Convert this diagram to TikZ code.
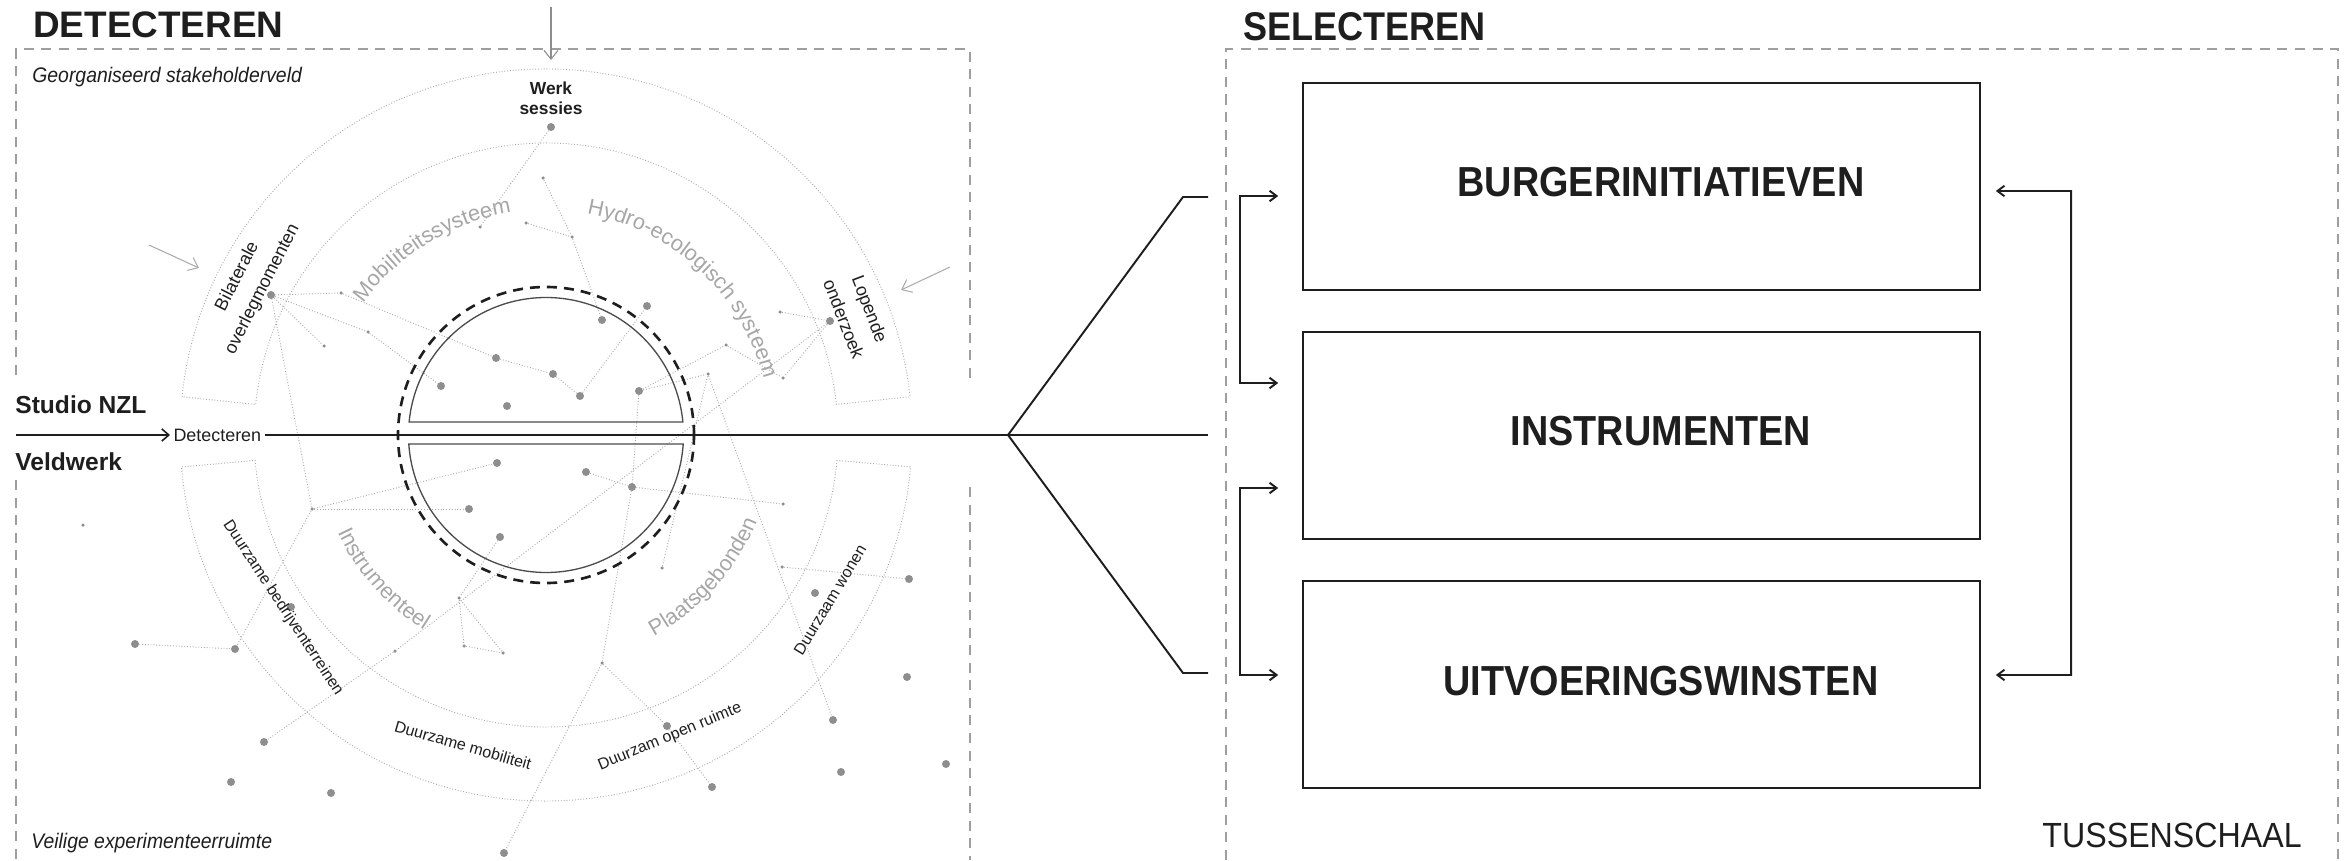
\documentclass[tikz,border=0pt]{standalone}
\usepackage{fontspec}
\setmainfont{Liberation Sans}
\newfontfamily\narrowfont[FakeStretch=0.9]{Liberation Sans}
\newfontfamily\slimfont[FakeStretch=0.92]{Liberation Sans}
\usetikzlibrary{arrows.meta,calc,decorations.text}

\definecolor{ink}{HTML}{1E1E1E}
\definecolor{dotgray}{HTML}{8E8E8E}
\definecolor{netgray}{HTML}{ABABAB}
\definecolor{lblgray}{HTML}{A6A6A6}
\definecolor{framegray}{HTML}{9E9E9E}

\tikzset{
  bdot/.style={circle,fill=dotgray,inner sep=0pt,minimum size=0.16cm},
  sdot/.style={circle,fill=dotgray,inner sep=0pt,minimum size=0.07cm},
  net/.style={netgray,line width=0.55pt,dash pattern=on 0.5pt off 1.1pt},
  frame/.style={framegray,line width=0.7pt,dash pattern=on 5.7pt off 4.3pt},
  selbox/.style={draw=ink,line width=1pt,minimum width=13.54cm,minimum height=4.14cm,inner sep=0pt},
  boxtext/.style={font=\narrowfont\bfseries\fontsize{23.9}{28}\selectfont,text=ink,inner sep=0pt},
  ringtext/.style={font=\fontsize{9.1}{11}\selectfont,text=ink,inner sep=0pt},
  tag/.style={font=\fontsize{10.2}{15.9}\selectfont,text=ink,align=center,inner sep=0pt},
  garr/.style={dotgray,line width=0.6pt,-{Straight Barb[length=5pt,width=8pt]}},
  brk/.style={ink,line width=1.1pt,{Straight Barb[length=4pt,width=6pt]}-{Straight Barb[length=4pt,width=6pt]}},
  fan/.style={ink,line width=1.1pt},
}

\begin{document}
\begin{tikzpicture}[x=0.02cm,y=0.02cm]
\useasboundingbox (0,0) rectangle (2351,860);

% dashed frames
\draw[frame] (16,485) -- (16,811) -- (970,811) -- (970,479);
\draw[frame] (16,380) -- (16,0);
\draw[frame] (970,373) -- (970,0);
\draw[frame] (1226,0) -- (1226,811) -- (2338,811) -- (2338,0);

% titles
\node[anchor=base west,inner sep=0pt,font=\bfseries\fontsize{21}{24}\selectfont,text=ink] (dettitle) at (33,822) {DETECTEREN};
\node[anchor=base west,inner sep=0pt,font=\narrowfont\bfseries\fontsize{22.8}{26}\selectfont,text=ink] (seltitle) at (1243,819) {SELECTEREN};
\node[anchor=base east,inner sep=0pt,font=\slimfont\fontsize{19.9}{22}\selectfont,text=ink] (scale) at (2302,13) {TUSSENSCHAAL};
\node[anchor=base west,inner sep=0pt,font=\slimfont\itshape\fontsize{12}{14}\selectfont,text=ink] (field) at (32,777) {Georganiseerd stakeholderveld};
\node[anchor=base west,inner sep=0pt,font=\slimfont\itshape\fontsize{12}{14}\selectfont,text=ink] (safe) at (31,12) {Veilige experimenteerruimte};
\node[anchor=base west,inner sep=0pt,font=\bfseries\fontsize{14}{16}\selectfont,text=ink] (studio) at (15,447) {Studio NZL};
\node[anchor=base west,inner sep=0pt,font=\bfseries\fontsize{14}{16}\selectfont,text=ink] (veld) at (15,390) {Veldwerk};

% rings around the centre
\coordinate (C) at (546,425);
\draw[net] ([shift={(C)}]6:292) arc[start angle=6,end angle=174,radius=292]
  -- ([shift={(C)}]174:366) arc[start angle=174,end angle=6,radius=366] -- cycle;
\draw[net] ([shift={(C)}]-5:292) arc[start angle=-5,end angle=-175,radius=292]
  -- ([shift={(C)}]-175:366) arc[start angle=-175,end angle=-5,radius=366] -- cycle;

% network of dots
\foreach \n/\x/\y in {u1/551/733,u6/271/565,u10/441/474,u11/496/502,u12/553/486,u13/580/464,
  u14/507/454,u15/602/540,u16/647/554,u17/639/469,u21/830/539,
  l2/469/351,l3/497/397,l4/235/211,l5/135/216,l6/500/323,l11/264/118,l12/586/388,l13/632/373,
  l16/504/7,l17/667/134,l18/712/73,l19/833/140,l22/909/281,l23/815/267,l24/907/183,
  l25/841/88,l26/946/96,l27/291/253,l28/231/78,l29/331/67}
  \node[bdot] (\n) at (\x,\y) {};
\foreach \n/\x/\y in {u2/480/633,u3/543/682,u4/572/623,u5/526/637,u7/341/567,u8/368/528,
  u9/324/514,u18/726/515,u19/708/486,u20/780/548,u22/783/482,
  l1/312/351,l7/459/262,l8/464/214,l9/503/207,l10/395/209,l14/783/356,l15/602/197,
  l20/662/292,l21/782/293,l30/83/335}
  \node[sdot] (\n) at (\x,\y) {};
\foreach \p/\q in {u1/u2,u3/u4,u4/u15,u5/u4,u6/u7,u6/u8,u8/u10,u6/u9,u7/u11,u11/u12,
  u12/u13,u13/u16,u17/u18,u18/u22,u17/u19,u20/u21,u21/u22,
  u6/l1,l1/l2,l1/l3,l1/l4,l5/l4,l6/l7,l7/l8,l8/l9,l9/l7,u21/l10,l10/l11,u17/l13,
  l12/l13,l13/l14,l13/l15,l15/l16,l15/l17,l17/l18,u19/l19,l20/u19,l21/l22}
  \draw[net] (\p) -- (\q);

% gray arc labels
\path[decorate,decoration={text along path,text align=center,text color=lblgray,
  text={|\fontsize{12.4}{14}\selectfont|Mobiliteitssysteem}}]
  ([shift={(C)}]155:225) arc[start angle=155,end angle=88,radius=225];
\path[decorate,decoration={text along path,text align=center,text color=lblgray,
  text={|\fontsize{12.4}{14}\selectfont|Hydro-ecologisch systeem}}]
  ([shift={(C)}]82:225) arc[start angle=82,end angle=12,radius=225];
\path[decorate,decoration={text along path,text align=center,text color=lblgray,
  text={|\fontsize{12.4}{14}\selectfont|Instrumenteel}}]
  ([shift={(C)}]195:230) arc[start angle=195,end angle=248,radius=230];
\path[decorate,decoration={text along path,text align=center,text color=lblgray,
  text={|\fontsize{12.4}{14}\selectfont|Plaatsgebonden}}]
  ([shift={(C)}]-70:228) arc[start angle=-70,end angle=-14,radius=228];

% ring labels
\node[tag,rotate=63] (bilat) at (250,577) {Bilaterale\\overlegmomenten};
\node[tag,rotate=-69] (lopend) at (857,546) {Lopende\\onderzoek};
\node[ringtext,rotate=-56.7] (bedrijf) at (283,252) {Duurzame bedrijventerreinen};
\node[ringtext,rotate=-16] (mobiel) at (463,115) {Duurzame mobiliteit};
\node[ringtext,rotate=22.5] (ruimte) at (670,123) {Duurzam open ruimte};
\node[ringtext,rotate=59] (wonen) at (830,260) {Duurzaam wonen};
\node[font=\bfseries\fontsize{9.9}{11.4}\selectfont,text=ink,align=center,inner sep=0pt] (werk) at (551,762) {Werk\\sessies};

% incoming arrows
\coordinate (topin) at (551,853);
\coordinate (topend) at (551,800);
\coordinate (leftin) at (149,615);
\coordinate (leftend) at (199,592);
\coordinate (rightin) at (950,593);
\coordinate (rightend) at (901,570);
\draw[garr] (topin) -- (topend);
\draw[garr,netgray] (leftin) -- (leftend);
\draw[garr,netgray] (rightin) -- (rightend);

% central circle
\draw[ink,line width=1.5pt,dash pattern=on 5.7pt off 4pt] (C) circle[radius=148];
\draw[ink!80,line width=0.75pt] ([shift={(C)}]5.43:137.5) arc[start angle=5.43,end angle=174.57,radius=137.5] -- cycle;
\draw[ink!80,line width=0.75pt] ([shift={(C)}]-3.75:137.5) arc[start angle=-3.75,end angle=-176.25,radius=137.5] -- cycle;

% main line and fan
\coordinate (start) at (16,425);
\node[anchor=west,inner sep=0pt,outer sep=2pt,font=\fontsize{10.2}{12}\selectfont,text=ink] (det) at (170,425) {Detecteren};
\draw[ink,line width=0.9pt,-{Straight Barb[length=4pt,width=7pt]}] (start) -- (det.west);
\coordinate (apex) at (1008,425);
\coordinate (fanup) at (1183,663);
\coordinate (fanupend) at (1208,663);
\coordinate (fanlow) at (1183,187);
\coordinate (fanlowend) at (1208,187);
\coordinate (fanmid) at (1208,425);
\draw[ink,line width=1.4pt] (det.east) -- (apex);
\draw[fan] (apex) -- (fanup) -- (fanupend);
\draw[fan] (apex) -- (fanlow) -- (fanlowend);
\draw[fan] (apex) -- (fanmid);

% selection boxes
\node[selbox] (burger) at (1641.5,673.5) {};
\node[selbox] (instr) at (1641.5,424.5) {};
\node[selbox] (uitv) at (1641.5,175.5) {};
\node[boxtext] (burgertext) at ($(burger.center)+(19.5,4.5)$) {BURGERINITIATIEVEN};
\node[boxtext] (instrtext) at ($(instr.center)+(19.5,4)$) {INSTRUMENTEN};
\node[boxtext] (uitvtext) at ($(uitv.center)+(19.5,3.5)$) {UITVOERINGSWINSTEN};

% feedback brackets
\draw[brk] ($(burger.west)+(-24,-9.5)$) -- (1240,664) -- (1240,477) -- ($(instr.west)+(-24,52.5)$);
\draw[brk] ($(instr.west)+(-24,-52.5)$) -- (1240,372) -- (1240,185) -- ($(uitv.west)+(-24,9.5)$);
\draw[brk] ($(burger.east)+(15,-4.5)$) -- (2071,669) -- (2071,185) -- ($(uitv.east)+(15,9.5)$);

\end{tikzpicture}
\end{document}
